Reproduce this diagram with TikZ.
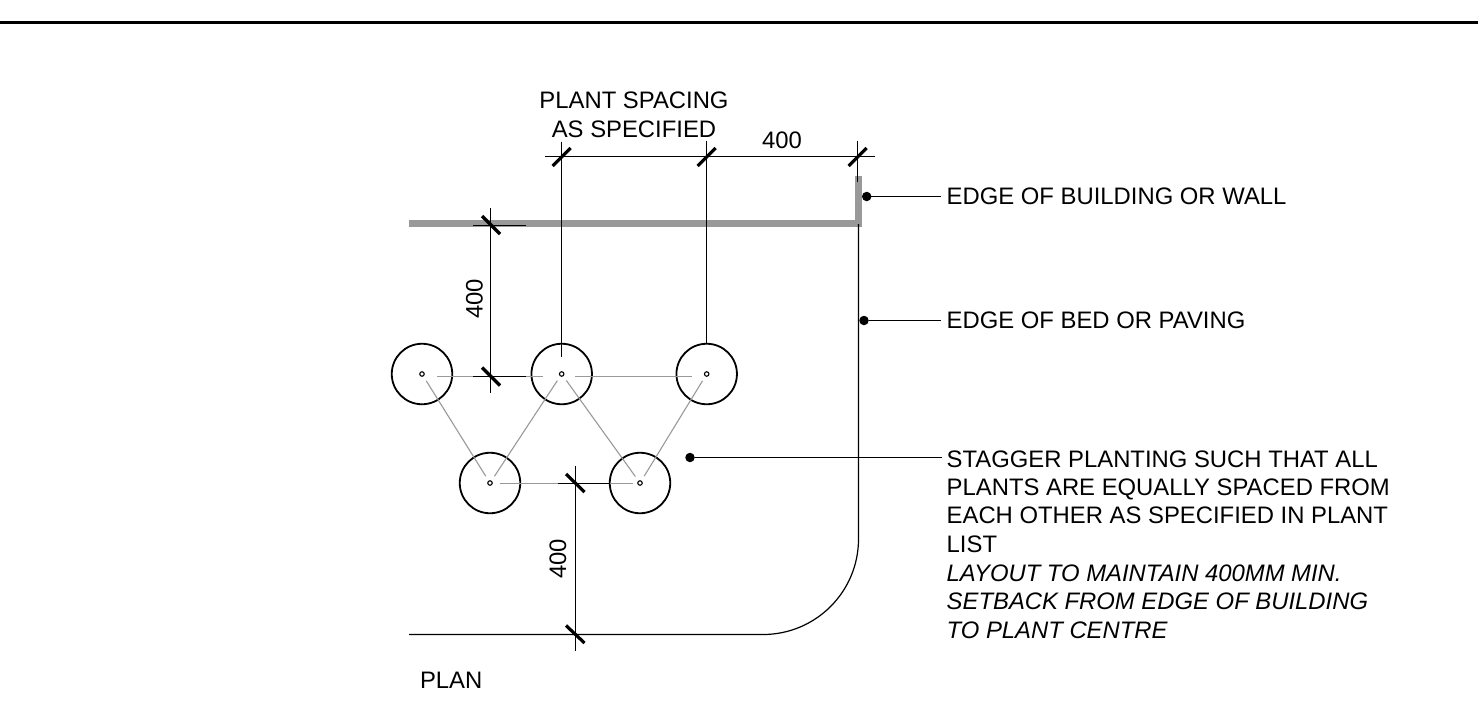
\documentclass[tikz,border=0pt]{standalone}
\usepackage{fontspec}
\setmainfont{Liberation Sans}
\tikzset{
  plant/.style={circle,draw=black,line width=1.8pt,minimum size=60.5pt,inner sep=0pt,outer sep=0pt},
  centre/.style={circle,draw=black,line width=1.1pt,fill=white,minimum size=4.5pt,inner sep=0pt,outer sep=0pt},
  dotmark/.style={circle,fill=black,minimum size=9.5pt,inner sep=0pt,outer sep=0pt},
  gridline/.style={draw=black!40,line width=1.1pt},
  dimline/.style={draw=black,line width=1.1pt},
  tick/.style={draw=black,line width=3.2pt},
  wall/.style={draw=black!40,line width=7pt},
  bedline/.style={draw=black,line width=1.2pt},
  label/.style={inner sep=0pt,outer sep=0pt,font=\fontsize{23.85}{28}\selectfont},
  leftlabel/.style={label,anchor=base west},
  midlabel/.style={label,anchor=base},
  italiclabel/.style={leftlabel,font=\fontsize{23.85}{28}\selectfont\itshape},
}
\begin{document}
\begin{tikzpicture}[x=1pt,y=-1pt]
\useasboundingbox (0,0) rectangle (1478,726);
% top rule
\coordinate (ruleL) at (0,22.5); \coordinate (ruleR) at (1478,22.5);
\draw[line width=3.4pt] (ruleL) -- (ruleR);
% wall
\coordinate (wallA) at (409,223); \coordinate (wallB) at (858,223); \coordinate (wallC) at (858,176);
\draw[wall,miter limit=10] (wallA) -- (wallB) -- (wallC);
% bed edge
\coordinate (bedStart) at (858.5,224); \coordinate (bedCurve) at (858.5,539);
\coordinate (bedEnd) at (409,634.5);
\draw[bedline] (bedStart) -- (bedCurve) arc[start angle=0,end angle=90,radius=95.5] -- (bedEnd);
% plants
\node[plant] (p1) at (422,374) {};
\node[plant] (p2) at (561.7,374) {};
\node[plant] (p3) at (706.7,374) {};
\node[plant] (q1) at (490,483) {};
\node[plant] (q2) at (640,483) {};
\node[centre] (pc1) at (p1) {};
\node[centre] (pc2) at (p2) {};
\node[centre] (pc3) at (p3) {};
\node[centre] (qc1) at (q1) {};
\node[centre] (qc2) at (q2) {};
% grid lines between plant centres
\coordinate (g1) at (422,376.5); \coordinate (g2) at (561.7,376.5); \coordinate (g3) at (706.7,376.5);
\coordinate (g4) at (490,483.5); \coordinate (g5) at (640,483.5);
\draw[gridline,shorten <=15pt,shorten >=18.7pt] (g1) -- (g2);
\draw[gridline,shorten <=13.3pt,shorten >=14.7pt] (g2) -- (g3);
\draw[gridline,shorten <=10pt,shorten >=7pt] (g4) -- (g5);
\draw[gridline,shorten <=8pt,shorten >=8pt] (pc1.center) -- (qc1.center);
\draw[gridline,shorten <=8pt,shorten >=8pt] (qc1.center) -- (pc2.center);
\draw[gridline,shorten <=8pt,shorten >=8pt] (pc2.center) -- (qc2.center);
\draw[gridline,shorten <=8pt,shorten >=8pt] (qc2.center) -- (pc3.center);
% top dimension
\coordinate (dtL) at (545,156.5); \coordinate (dtR) at (875,156.5);
\draw[dimline] (dtL) -- (dtR);
\coordinate (e1t) at (561.5,141.5); \coordinate (e1b) at (561.5,356.5);
\coordinate (e2t) at (706.5,140.5); \coordinate (e2b) at (706.5,344);
\coordinate (e3t) at (857.5,140.5); \coordinate (e3b) at (857.5,182);
\draw[dimline] (e1t) -- (e1b);
\draw[dimline] (e2t) -- (e2b);
\draw[dimline] (e3t) -- (e3b);
\coordinate (t1a) at (552.7,166); \coordinate (t1b) at (570.7,148);
\coordinate (t2a) at (697.7,166); \coordinate (t2b) at (715.7,148);
\coordinate (t3a) at (848.7,166); \coordinate (t3b) at (866.7,148);
\draw[tick] (t1a) -- (t1b);
\draw[tick] (t2a) -- (t2b);
\draw[tick] (t3a) -- (t3b);
% left dimension
\coordinate (d1t) at (490.5,208); \coordinate (d1b) at (490.5,393);
\draw[dimline] (d1t) -- (d1b);
\coordinate (h1a) at (473,225.5); \coordinate (h1b) at (525.5,225.5);
\coordinate (h2a) at (473,376.5); \coordinate (h2b) at (525.5,376.5);
\draw[dimline] (h1a) -- (h1b);
\draw[dimline] (h2a) -- (h2b);
\coordinate (t4a) at (482,216); \coordinate (t4b) at (500,234);
\coordinate (t5a) at (482,367.5); \coordinate (t5b) at (500,385.5);
\draw[tick] (t4a) -- (t4b);
\draw[tick] (t5a) -- (t5b);
% lower dimension
\coordinate (d2t) at (575.5,466); \coordinate (d2b) at (575.5,651);
\draw[dimline] (d2t) -- (d2b);
\coordinate (h3a) at (558,483.5); \coordinate (h3b) at (610,483.5);
\draw[dimline] (h3a) -- (h3b);
\coordinate (t6a) at (566,474); \coordinate (t6b) at (584.5,492);
\coordinate (t7a) at (566,625.5); \coordinate (t7b) at (584.5,643);
\draw[tick] (t6a) -- (t6b);
\draw[tick] (t7a) -- (t7b);
% leaders
\node[dotmark] (dot1) at (866.7,196.5) {};
\node[dotmark] (dot2) at (864,320.5) {};
\node[dotmark] (dot3) at (690,457.5) {};
\coordinate (l1) at (941,196.5); \coordinate (l2) at (941,320.5); \coordinate (l3) at (942,457.5);
\draw[dimline] (dot1) -- (l1);
\draw[dimline] (dot2) -- (l2);
\draw[dimline] (dot3) -- (l3);
% texts
\node[midlabel] (ps1) at (634,108.3) {PLANT SPACING};
\node[midlabel] (ps2) at (634,137.3) {AS SPECIFIED};
\node[midlabel] (d400a) at (782,148.9) {400};
\node[midlabel,rotate=90] (d400b) at (482.5,299) {400};
\node[midlabel,rotate=90] (d400c) at (566.2,559) {400};
\node[leftlabel] (tw) at (946.7,204.9) {EDGE OF BUILDING OR WALL};
\node[leftlabel] (tb) at (946.7,328.7) {EDGE OF BED OR PAVING};
\node[leftlabel] (s1) at (946.7,467) {STAGGER PLANTING SUCH THAT ALL};
\node[leftlabel] (s2) at (946.7,495.3) {PLANTS ARE EQUALLY SPACED FROM};
\node[leftlabel] (s3) at (946.7,523.8) {EACH OTHER AS SPECIFIED IN PLANT};
\node[leftlabel] (s4) at (946.7,552.4) {LIST};
\node[italiclabel] (s5) at (946.7,581.2) {LAYOUT TO MAINTAIN 400MM MIN.};
\node[italiclabel] (s6) at (946.7,609.9) {SETBACK FROM EDGE OF BUILDING};
\node[italiclabel] (s7) at (946.7,638.9) {TO PLANT CENTRE};
\node[leftlabel] (plan) at (420,688.9) {PLAN};
\end{tikzpicture}
\end{document}
